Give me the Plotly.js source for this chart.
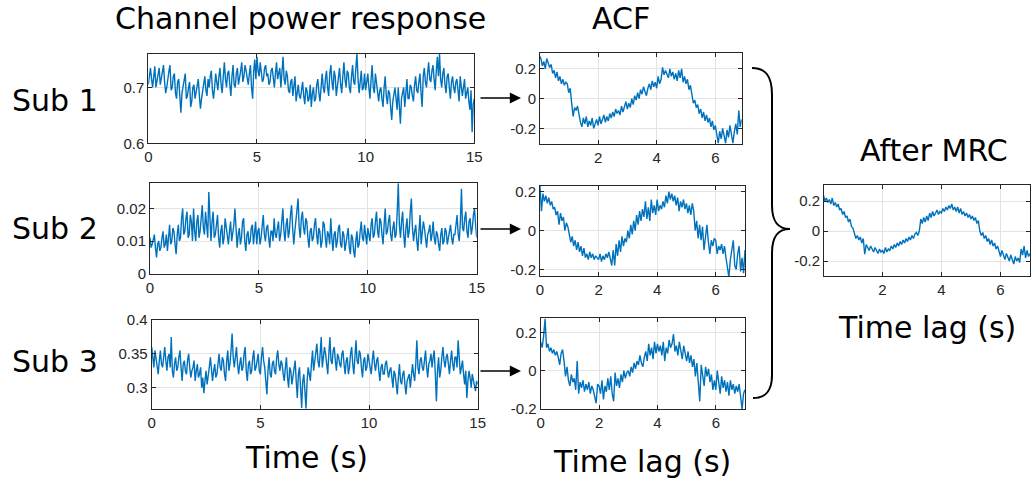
<!DOCTYPE html>
<html>
<head>
<meta charset="utf-8">
<script src="https://cdn.plot.ly/plotly-3.0.1.min.js"></script>
<style>html,body{margin:0;padding:0;background:#fff}#chart{width:1032px;height:482px}</style>
</head>
<body>
<div id="chart"></div>
<script>
// ---------------- data ----------------
const TS_STEP = 0.05;  // sampling of the channel power response (s)
const LAG_STEP = 0.05; // lag sampling of the ACF (s)

// samples at t = 0, 0.1, 0.2, ...
const sub1PowerA = [
0.705,0.735,0.70,0.738,0.715,0.735,0.72,0.74,0.69,0.72,
0.74,0.70,0.725,0.68,0.715,0.655,0.70,0.725,0.685,0.71,
0.675,0.705,0.69,0.715,0.662,0.695,0.72,0.685,0.70,0.73,
0.68,0.725,0.695,0.735,0.69,0.745,0.70,0.73,0.685,0.74,
0.70,0.735,0.715,0.745,0.72,0.73,0.705,0.74,0.68,0.75,
0.755,0.72,0.73,0.715,0.74,0.725,0.71,0.735,0.70,0.745,
0.725,0.70,0.755,0.705,0.72,0.69,0.715,0.70,0.675,0.705,
0.68,0.71,0.67,0.695,0.68,0.665,0.70,0.68,0.715,0.675,
0.725,0.69,0.73,0.685,0.74,0.695,0.72,0.70,0.735,0.69,
0.745,0.70,0.725,0.69,0.74,0.705,0.76,0.69,0.73,0.70,
0.695,0.725,0.68,0.74,0.69,0.71,0.675,0.70,0.665,0.72,
0.67,0.69,0.642,0.685,0.68,0.70,0.635,0.69,0.665,0.715,
0.68,0.70,0.675,0.72,0.69,0.725,0.665,0.735,0.70,0.745,
0.71,0.74,0.695,0.755,0.76,0.70,0.735,0.69,0.725,0.68,
0.72,0.69,0.715,0.675,0.705,0.70,0.68,0.70,0.66,0.62,
0.68];
// samples at t = 0.05, 0.15, 0.25, ...
const sub1PowerB = [
0.725,0.715,0.72,0.70,0.73,0.705,0.735,0.71,0.70,0.73,
0.695,0.72,0.69,0.71,0.675,0.69,0.71,0.68,0.70,0.665,
0.70,0.68,0.705,0.685,0.68,0.71,0.695,0.715,0.72,0.695,
0.70,0.71,0.72,0.705,0.72,0.715,0.725,0.705,0.72,0.705,
0.725,0.705,0.73,0.71,0.74,0.715,0.725,0.70,0.73,0.715,
0.73,0.745,0.71,0.735,0.72,0.705,0.73,0.715,0.725,0.715,
0.735,0.725,0.715,0.73,0.695,0.71,0.685,0.72,0.69,0.685,
0.695,0.685,0.70,0.675,0.705,0.69,0.675,0.705,0.69,0.70,
0.70,0.715,0.70,0.725,0.71,0.73,0.685,0.725,0.705,0.72,
0.715,0.73,0.70,0.72,0.71,0.735,0.715,0.71,0.695,0.725,
0.71,0.70,0.715,0.70,0.725,0.685,0.695,0.68,0.70,0.685,
0.695,0.665,0.675,0.70,0.66,0.675,0.68,0.70,0.69,0.68,
0.705,0.685,0.705,0.695,0.71,0.69,0.72,0.71,0.725,0.715,
0.73,0.715,0.73,0.72,0.715,0.725,0.705,0.72,0.70,0.71,
0.70,0.71,0.695,0.72,0.685,0.715,0.69,0.675,0.695,0.67];

const sub2PowerA = [
0.011,0.009,0.012,0.005,0.010,0.008,0.013,0.009,0.007,0.015,
0.010,0.013,0.006,0.015,0.011,0.020,0.013,0.019,0.012,0.016,
0.020,0.010,0.018,0.013,0.021,0.012,0.016,0.025,0.010,0.019,
0.012,0.018,0.008,0.015,0.011,0.014,0.009,0.016,0.012,0.020,
0.008,0.014,0.011,0.017,0.007,0.013,0.010,0.015,0.012,0.009,
0.014,0.011,0.018,0.010,0.015,0.008,0.013,0.017,0.011,0.016,
0.012,0.020,0.010,0.017,0.013,0.021,0.009,0.016,0.023,0.011,
0.019,0.012,0.016,0.008,0.014,0.011,0.017,0.009,0.013,0.010,
0.015,0.008,0.012,0.017,0.007,0.013,0.010,0.015,0.008,0.012,
0.009,0.014,0.006,0.011,0.005,0.013,0.009,0.016,0.010,0.012,
0.014,0.010,0.017,0.012,0.019,0.011,0.016,0.009,0.020,0.013,
0.018,0.010,0.016,0.012,0.0277,0.011,0.019,0.008,0.017,0.013,
0.023,0.010,0.015,0.007,0.018,0.012,0.014,0.008,0.013,0.010,
0.016,0.009,0.012,0.007,0.014,0.010,0.013,0.011,0.015,0.009,
0.012,0.018,0.010,0.026,0.013,0.019,0.011,0.017,0.014,0.020,
0.011];
const sub2PowerB = [
0.008,0.011,0.008,0.009,0.007,0.011,0.008,0.012,0.011,0.009,
0.014,0.009,0.012,0.010,0.017,0.012,0.017,0.011,0.018,0.010,
0.013,0.016,0.011,0.017,0.014,0.019,0.011,0.014,0.016,0.011,
0.015,0.011,0.013,0.009,0.017,0.010,0.013,0.010,0.015,0.011,
0.012,0.009,0.016,0.010,0.012,0.009,0.014,0.009,0.016,0.013,
0.009,0.015,0.012,0.014,0.011,0.013,0.010,0.012,0.014,0.010,
0.016,0.013,0.015,0.011,0.018,0.014,0.013,0.020,0.014,0.017,
0.014,0.017,0.011,0.013,0.010,0.015,0.012,0.014,0.008,0.016,
0.011,0.013,0.009,0.011,0.012,0.008,0.014,0.009,0.013,0.007,
0.012,0.008,0.012,0.007,0.010,0.008,0.013,0.011,0.015,0.009,
0.011,0.015,0.011,0.016,0.013,0.017,0.012,0.015,0.012,0.016,
0.012,0.014,0.011,0.019,0.015,0.016,0.012,0.014,0.011,0.019,
0.014,0.013,0.010,0.013,0.009,0.016,0.010,0.012,0.015,0.012,
0.011,0.013,0.009,0.012,0.009,0.014,0.009,0.013,0.011,0.012,
0.015,0.012,0.016,0.014,0.017,0.013,0.016,0.012,0.018,0.015];

const sub3PowerA = [
0.36,0.33,0.345,0.32,0.355,0.33,0.36,0.325,0.35,0.375,
0.315,0.345,0.33,0.355,0.31,0.34,0.32,0.35,0.315,0.33,
0.31,0.335,0.32,0.30,0.292,0.325,0.315,0.345,0.31,0.335,
0.32,0.35,0.325,0.34,0.31,0.355,0.335,0.38,0.33,0.36,
0.32,0.345,0.33,0.36,0.31,0.34,0.325,0.355,0.33,0.35,
0.32,0.36,0.33,0.29,0.345,0.315,0.34,0.32,0.355,0.325,
0.335,0.31,0.345,0.30,0.325,0.315,0.34,0.285,0.33,0.27,
0.32,0.269,0.33,0.31,0.355,0.34,0.365,0.33,0.375,0.345,
0.35,0.32,0.375,0.335,0.36,0.325,0.345,0.33,0.355,0.32,
0.345,0.33,0.36,0.32,0.37,0.335,0.35,0.315,0.345,0.33,
0.34,0.32,0.355,0.325,0.345,0.31,0.335,0.32,0.34,0.315,
0.33,0.30,0.32,0.29,0.335,0.305,0.325,0.29,0.315,0.30,
0.335,0.31,0.37,0.32,0.345,0.325,0.355,0.315,0.34,0.33,
0.355,0.28,0.345,0.325,0.36,0.33,0.35,0.32,0.355,0.325,
0.345,0.37,0.32,0.34,0.305,0.285,0.325,0.30,0.31,0.295,
0.305];
const sub3PowerB = [
0.34,0.355,0.33,0.34,0.335,0.345,0.34,0.345,0.33,0.325,
0.335,0.325,0.345,0.33,0.335,0.325,0.34,0.33,0.325,0.34,
0.325,0.315,0.33,0.315,0.31,0.305,0.33,0.325,0.325,0.315,
0.335,0.33,0.345,0.32,0.34,0.325,0.355,0.345,0.345,0.335,
0.335,0.325,0.35,0.325,0.335,0.32,0.345,0.325,0.34,0.325,
0.345,0.34,0.31,0.325,0.32,0.335,0.325,0.345,0.335,0.34,
0.32,0.33,0.315,0.33,0.305,0.33,0.31,0.32,0.30,0.31,
0.295,0.31,0.32,0.335,0.325,0.355,0.34,0.35,0.33,0.36,
0.335,0.35,0.34,0.355,0.34,0.35,0.335,0.35,0.335,0.34,
0.32,0.35,0.335,0.345,0.34,0.355,0.33,0.34,0.325,0.35,
0.33,0.34,0.335,0.34,0.325,0.33,0.32,0.335,0.325,0.325,
0.315,0.325,0.305,0.315,0.31,0.32,0.305,0.31,0.32,0.32,
0.32,0.335,0.33,0.34,0.33,0.34,0.33,0.335,0.35,0.345,
0.32,0.325,0.315,0.345,0.34,0.345,0.335,0.34,0.335,0.345,
0.33,0.345,0.33,0.32,0.325,0.31,0.315,0.32,0.30,0.31];

const acfSub1 = [
0.29,0.27,0.22,0.25,0.20,0.27,0.24,0.21,0.23,0.17,0.19,0.14,0.18,0.12,0.15,0.10,0.13,0.09,0.11,0.10,
0.04,0.07,-0.03,-0.12,-0.06,-0.08,-0.05,-0.12,-0.16,-0.19,-0.13,-0.17,-0.12,-0.19,-0.15,-0.18,-0.13,-0.20,-0.16,-0.14,
-0.18,-0.12,-0.17,-0.14,-0.11,-0.16,-0.12,-0.15,-0.10,-0.13,-0.09,-0.12,-0.07,-0.10,-0.08,-0.11,-0.05,-0.09,-0.06,-0.02,
-0.07,-0.03,-0.06,0.00,-0.04,0.02,-0.01,0.04,0.00,0.06,0.03,0.08,0.05,0.02,0.07,0.10,0.06,0.12,0.08,0.11,
0.07,0.15,0.10,0.13,0.21,0.16,0.19,0.17,0.14,0.20,0.15,0.18,0.13,0.17,0.12,0.19,0.14,0.20,0.11,0.15,
0.10,0.13,0.06,0.09,0.02,-0.03,-0.01,-0.06,-0.04,-0.10,-0.07,-0.13,-0.09,-0.15,-0.11,-0.16,-0.13,-0.19,-0.15,-0.21,
-0.18,-0.24,-0.30,-0.22,-0.27,-0.20,-0.25,-0.30,-0.21,-0.26,-0.18,-0.23,-0.30,-0.22,-0.17,-0.24,-0.08,-0.19,-0.14];

const acfSub2 = [
0.23,0.10,0.19,0.15,0.18,0.14,0.17,0.13,0.15,0.11,0.12,0.08,0.10,0.03,0.09,0.05,0.07,0.00,0.04,0.02,
-0.02,-0.06,-0.03,-0.08,-0.05,-0.10,-0.06,-0.11,-0.08,-0.13,-0.09,-0.14,-0.12,-0.15,-0.11,-0.14,-0.12,-0.15,-0.13,-0.14,
-0.15,-0.12,-0.16,-0.13,-0.15,-0.12,-0.14,-0.11,-0.15,-0.18,-0.10,-0.18,-0.07,-0.13,-0.05,-0.11,-0.03,-0.08,-0.04,-0.06,
0.00,-0.04,0.03,-0.02,0.05,0.00,0.08,0.03,0.10,0.05,0.11,0.07,0.15,0.06,0.12,0.05,0.16,0.09,0.13,0.08,
0.16,0.10,0.13,0.11,0.15,0.12,0.18,0.14,0.20,0.16,0.19,0.15,0.18,0.13,0.17,0.10,0.15,0.12,0.16,0.11,
0.14,0.09,0.13,0.08,0.14,0.10,0.00,0.05,-0.04,0.03,-0.05,0.02,-0.10,-0.03,0.03,-0.06,-0.12,-0.05,-0.08,-0.04,
-0.05,-0.12,-0.08,-0.10,-0.07,-0.12,-0.08,-0.14,-0.20,-0.24,-0.15,-0.10,-0.05,-0.18,-0.20,-0.12,-0.08,-0.21,-0.14,-0.22,
-0.10];

const acfSub3 = [
0.15,0.12,0.18,0.27,0.12,0.14,0.10,0.12,0.09,0.11,0.08,0.10,0.07,0.03,0.09,0.11,0.05,-0.03,0.02,-0.05,
-0.08,-0.02,-0.06,-0.04,-0.10,0.05,-0.12,-0.06,-0.09,-0.05,-0.11,-0.07,-0.10,-0.06,-0.12,-0.08,-0.10,-0.14,-0.17,-0.07,
-0.08,-0.12,-0.05,-0.15,-0.08,-0.11,-0.04,-0.10,-0.03,-0.12,-0.16,-0.01,-0.08,-0.04,-0.09,-0.02,-0.06,0.00,-0.04,-0.01,
0.00,-0.03,0.02,-0.01,0.04,0.01,0.05,0.03,0.08,0.04,0.02,0.07,0.10,0.05,0.14,0.08,0.12,0.06,0.15,0.09,
0.14,0.10,0.13,0.08,0.15,0.05,0.12,0.09,0.16,0.12,0.14,0.19,0.10,0.13,0.08,0.15,0.11,0.06,0.13,0.08,
0.05,0.10,0.04,0.08,0.02,0.06,-0.03,0.04,-0.05,-0.16,0.03,-0.04,-0.08,0.02,-0.03,0.01,-0.06,-0.02,-0.10,-0.05,
-0.10,0.00,-0.07,-0.12,-0.03,-0.09,-0.05,-0.11,-0.06,-0.13,-0.05,-0.10,-0.07,-0.12,-0.08,-0.11,-0.07,-0.15,-0.20,-0.12,
-0.10];

const acfMRC = [
0.24,0.20,0.22,0.19,0.21,0.18,0.22,0.17,0.19,0.16,0.18,0.14,0.15,0.11,0.13,0.09,0.10,0.06,0.08,0.03,
0.02,-0.02,-0.05,-0.03,-0.06,-0.04,-0.08,-0.05,-0.155,-0.09,-0.11,-0.13,-0.10,-0.12,-0.14,-0.11,-0.13,-0.15,-0.12,-0.14,
-0.13,-0.15,-0.11,-0.14,-0.12,-0.13,-0.10,-0.12,-0.09,-0.11,-0.08,-0.10,-0.07,-0.09,-0.06,-0.08,-0.05,-0.07,-0.04,-0.06,
-0.03,-0.05,-0.02,-0.01,-0.03,0.00,0.08,0.05,0.09,0.06,0.10,0.07,0.12,0.09,0.13,0.10,0.12,0.14,0.11,0.13,
0.12,0.15,0.13,0.16,0.14,0.17,0.15,0.18,0.14,0.16,0.13,0.16,0.12,0.15,0.11,0.13,0.10,0.12,0.09,0.11,
0.08,0.10,0.07,0.09,0.05,0.07,0.00,-0.03,-0.01,-0.05,-0.03,-0.07,-0.05,-0.09,-0.06,-0.10,-0.08,-0.12,-0.10,-0.14,
-0.17,-0.13,-0.16,-0.19,-0.15,-0.18,-0.20,-0.16,-0.19,-0.22,-0.17,-0.20,-0.18,-0.21,-0.12,-0.16,-0.10,-0.18,-0.13,-0.17,
-0.15];

const timeTicks = [0, 5, 10, 15];
const lagTicksWithZero = [0, 2, 4, 6];
const lagTicks = [2, 4, 6];
const acfTicks = [-0.2, 0, 0.2];
const sub1Ticks = [0.6, 0.7];
const sub2Ticks = [0, 0.01, 0.02];
const sub3Ticks = [0.3, 0.35, 0.4];

const subLabels = ['Sub 1', 'Sub 2', 'Sub 3'];
const leftTitle = 'Channel power response';
const midTitle = 'ACF';
const rightTitle = 'After MRC';
const timeLabel = 'Time (s)';
const lagLabel = 'Time lag (s)';

// ---------------- helpers ----------------
const W = 1032, H = 482;
const px = x => x / W;
const py = y => 1 - y / H;
const grid = (n, step) => Array.from({length: n}, (_, i) => +(i * step).toFixed(4));
// merge the on-grid and half-step samples into one time-ordered series
const merge = (a, b) => { const out = []; a.forEach((v, i) => { out.push(v); if (i < b.length) out.push(b[i]); }); return out; };

const sub1Power = merge(sub1PowerA, sub1PowerB);
const sub2Power = merge(sub2PowerA, sub2PowerB);
const sub3Power = merge(sub3PowerA, sub3PowerB);

const BLUE = '#0072BD';
const AX = '#262626';
const GRID = '#e3e3e3';

function line(y, step, xa, ya) {
  return {x: grid(y.length, step), y: y, xaxis: xa, yaxis: ya, type: 'scatter', mode: 'lines',
          line: {color: BLUE, width: 1.4}, hoverinfo: 'skip', showlegend: false};
}

function axis(domain, range, tickvals, extra) {
  return Object.assign({
    domain: domain, range: range, tickvals: tickvals, ticktext: tickvals.map(v => String(v)),
    showline: true, mirror: 'ticks', linecolor: AX, linewidth: 1,
    ticks: 'inside', ticklen: 4, tickcolor: AX, tickwidth: 1,
    showgrid: true, gridcolor: GRID, gridwidth: 1, zeroline: false,
    tickfont: {family: 'Liberation Sans, Arial, sans-serif', size: 15, color: AX},
    fixedrange: true
  }, extra || {});
}

const data = [
  line(sub1Power, TS_STEP, 'x', 'y'),
  line(sub2Power, TS_STEP, 'x2', 'y2'),
  line(sub3Power, TS_STEP, 'x3', 'y3'),
  line(acfSub1, LAG_STEP, 'x4', 'y4'),
  line(acfSub2, LAG_STEP, 'x5', 'y5'),
  line(acfSub3, LAG_STEP, 'x6', 'y6'),
  line(acfMRC, LAG_STEP, 'x7', 'y7')
];

const layout = {
  width: W, height: H,
  margin: {l: 0, r: 0, t: 0, b: 0},
  paper_bgcolor: '#fff', plot_bgcolor: '#fff',
  showlegend: false,
  xaxis:  axis([px(148.3), px(474.3)], [0, 15], timeTicks, {anchor: 'y'}),
  yaxis:  axis([py(143.3), py(54)], [0.6, 0.76], sub1Ticks, {anchor: 'x'}),
  xaxis2: axis([px(150), px(476.7)], [0, 15], timeTicks, {anchor: 'y2'}),
  yaxis2: axis([py(273.7), py(183.3)], [0, 0.0277], sub2Ticks, {anchor: 'x2'}),
  xaxis3: axis([px(151.7), px(477.7)], [0, 15], timeTicks, {anchor: 'y3'}),
  yaxis3: axis([py(408.7), py(320)], [0.269, 0.4], sub3Ticks, {anchor: 'x3'}),
  xaxis4: axis([px(540), px(741.7)], [0.02, 6.9], lagTicks, {anchor: 'y4'}),
  yaxis4: axis([py(144), py(53.3)], [-0.305, 0.305], acfTicks, {anchor: 'x4'}),
  xaxis5: axis([px(540), px(745)], [0, 7], lagTicksWithZero, {anchor: 'y5'}),
  yaxis5: axis([py(276), py(185.7)], [-0.234, 0.231], acfTicks, {anchor: 'x5'}),
  xaxis6: axis([px(540.7), px(745)], [0, 7], lagTicksWithZero, {anchor: 'y6'}),
  yaxis6: axis([py(409), py(318.3)], [-0.2, 0.273], acfTicks, {anchor: 'x6'}),
  xaxis7: axis([px(824), px(1030)], [0.02, 7], lagTicks, {anchor: 'y7'}),
  yaxis7: axis([py(275.7), py(185)], [-0.298, 0.307], acfTicks, {anchor: 'x7'}),
  annotations: [],
  shapes: []
};

const BIG = {family: 'DejaVu Sans, Verdana, sans-serif', size: 30, color: '#000'};
function label(text, x, y) {
  layout.annotations.push({text: text, x: px(x), y: py(y), xref: 'paper', yref: 'paper',
    xanchor: 'center', yanchor: 'middle', showarrow: false, font: BIG, borderpad: 0});
}
label(leftTitle, 300, 18.5);
label(midTitle, 621, 19);
label(subLabels[0], 55, 100);
label(subLabels[1], 55, 228);
label(subLabels[2], 55, 361);
label(timeLabel, 306, 457);
label(lagLabel, 642, 461);
label(rightTitle, 934, 150);
label(lagLabel, 927, 327);

// arrows from time series to ACF
[98, 229, 371].forEach(yy => {
  layout.annotations.push({text: '', x: px(521), y: py(yy), xref: 'paper', yref: 'paper',
    ax: -42, ay: 0, showarrow: true, arrowhead: 2, arrowsize: 1.6, arrowwidth: 1.4, arrowcolor: '#000'});
});

// curly brace
const pts = [
  ['M', 752, 68], ['C', 765, 68, 772, 75, 772, 95], ['L', 772, 205],
  ['C', 772, 222, 778, 229, 790, 229], ['C', 778, 229, 772, 236, 772, 253],
  ['L', 772, 375], ['C', 772, 392, 765, 398, 753, 398]
];
const path = pts.map(p => {
  const c = p[0]; const s = [];
  for (let i = 1; i < p.length; i += 2) s.push(px(p[i]).toFixed(5) + ',' + py(p[i + 1]).toFixed(5));
  return c + ' ' + s.join(' ');
}).join(' ');
layout.shapes.push({type: 'path', path: path, xref: 'paper', yref: 'paper',
  line: {color: '#000', width: 2}, fillcolor: 'rgba(0,0,0,0)'});

Plotly.newPlot('chart', data, layout, {displayModeBar: false, staticPlot: true});
</script>
</body>
</html>
